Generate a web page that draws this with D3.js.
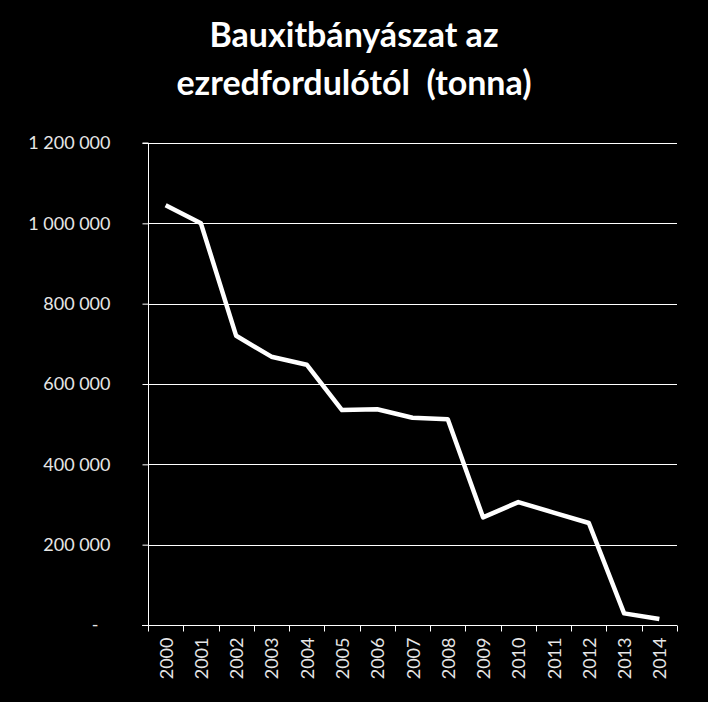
<!DOCTYPE html>
<html><head><meta charset="utf-8">
<script src="https://cdn.jsdelivr.net/npm/d3@7"></script>
<style>html,body{margin:0;padding:0;background:#000;}svg{display:block;}</style>
</head><body>
<script>
const years = ["2000","2001","2002","2003","2004","2005","2006","2007","2008","2009","2010","2011","2012","2013","2014"];
const tonnes = [1045000,1000000,720000,668000,648000,535000,537000,516000,512000,268000,306000,280000,254000,29000,15000];
const yTicks = [0,200000,400000,600000,800000,1000000,1200000];
const titleLines = ["Bauxitbányászat az","ezredfordulótól  (tonna)"];

(function(){
const W=708,H=702;
const pL=148,pR=677,pT=143,pB=625;
const svg=d3.select("body").append("svg").attr("width",W).attr("height",H).style("background","#000");
const font="Lato, 'Open Sans', sans-serif";

const x=d3.scaleBand().domain(years).range([pL,pR]).paddingInner(0).paddingOuter(0);
const y=d3.scaleLinear().domain([0,1200000]).range([pB,pT]);

// title
svg.append("g").selectAll("text").data(titleLines).join("text")
  .attr("x",354).attr("y",(d,i)=>47+i*48)
  .attr("text-anchor","middle").attr("fill","#fff")
  .attr("font-family",font).attr("font-weight","bold").attr("font-size",34)
  .style("white-space","pre").text(d=>d);

// gridlines
svg.append("g").selectAll("line").data(yTicks.filter(d=>d>0)).join("line")
  .attr("x1",pL).attr("x2",pR).attr("y1",d=>Math.round(y(d))+0.5).attr("y2",d=>Math.round(y(d))+0.5)
  .attr("stroke","#fff").attr("stroke-width",1);

// y axis
const fmt=d=>d===0?"-":d3.format(",")(d).replace(/,/g," ");
const ya=svg.append("g").attr("transform",`translate(${pL+0.5},0)`)
  .call(d3.axisLeft(y).tickValues(yTicks).tickFormat(fmt).tickSize(6).tickPadding(32));
ya.select(".domain").attr("stroke","#fff").attr("d",`M-6,${pT}H0V${pB}`);
ya.selectAll(".tick line").attr("stroke","#fff");
ya.selectAll(".tick text").attr("fill","#e6e6e6").attr("font-family",font).attr("font-size",18);
ya.selectAll(".tick").filter(d=>d===0).select("text").attr("dx",-12);

// x axis
const xa=svg.append("g").attr("transform",`translate(0,${pB+0.5})`);
xa.append("line").attr("x1",pL-6).attr("x2",pR).attr("y1",0).attr("y2",0).attr("stroke","#fff");
const bounds=years.map(d=>x(d)).concat([x(years[years.length-1])+x.bandwidth()]);
xa.selectAll("line.tk").data(bounds).join("line").attr("class","tk")
  .attr("x1",d=>Math.round(d)+0.5).attr("x2",d=>Math.round(d)+0.5).attr("y1",0).attr("y2",6).attr("stroke","#fff");
xa.selectAll("text").data(years).join("text")
  .attr("transform",d=>`translate(${x(d)+x.bandwidth()/2+7},12) rotate(-90)`)
  .attr("text-anchor","end").attr("fill","#e6e6e6")
  .attr("font-family",font).attr("font-size",18).text(d=>d);

// line
const line=d3.line().x((d,i)=>x(years[i])+x.bandwidth()/2).y(d=>y(d));
svg.append("path").datum(tonnes).attr("d",line).attr("fill","none")
  .attr("stroke","#fff").attr("stroke-width",4.5).attr("stroke-linejoin","round");
})();
</script>
</body></html>
